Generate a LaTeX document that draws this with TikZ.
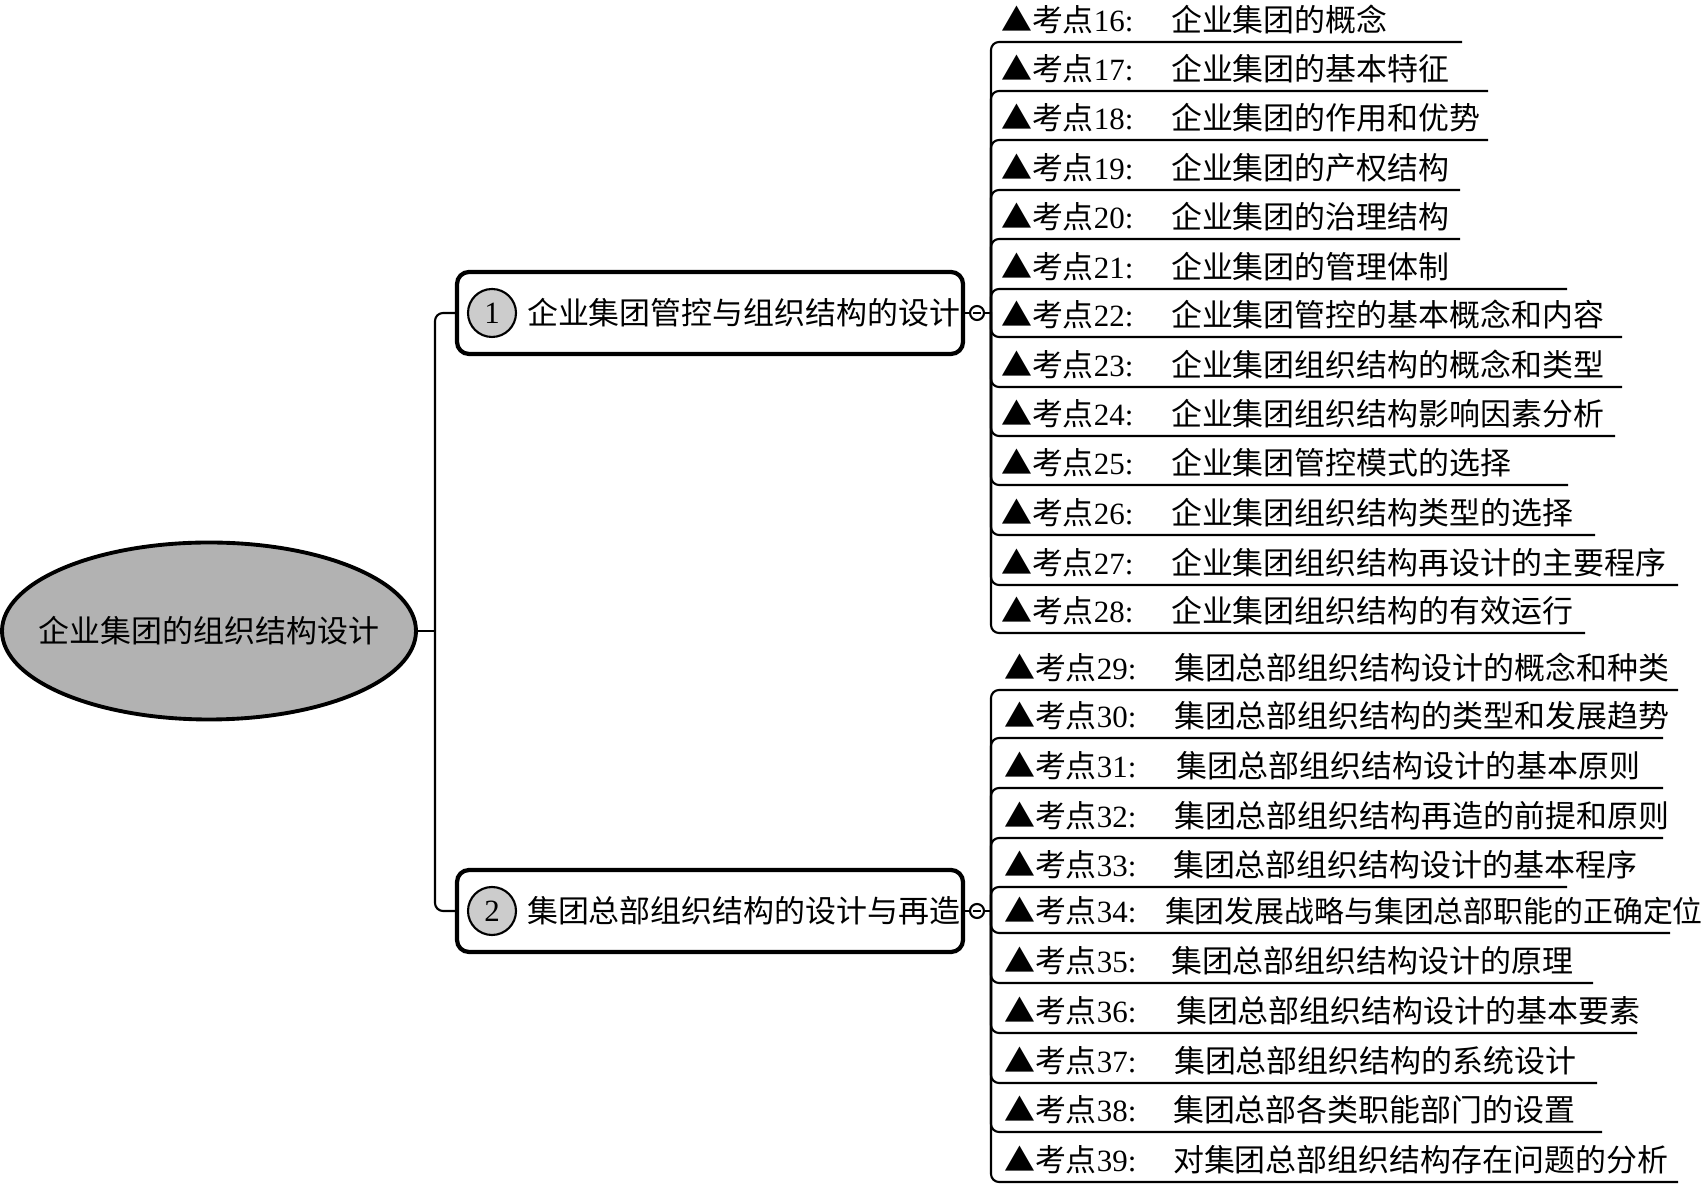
\documentclass[tikz,border=0pt]{standalone}
\usepackage{fontspec}
\setmainfont{Liberation Serif}
\newfontfamily\cjk{Noto Sans CJK SC}
\usetikzlibrary{positioning,shapes.geometric}
\begin{document}
\begin{tikzpicture}[line width=0.6pt, x=1cm, y=1cm,
  rootnode/.style={ellipse, draw, fill=black!30, line width=1.1pt, minimum width=4.14cm, minimum height=1.77cm, inner xsep=-0.26cm, inner ysep=0pt, font=\cjk\fontsize{8.8pt}{10pt}\selectfont},
  topicbox/.style={draw, rounded corners=0.12cm, line width=1.2pt, minimum width=5.06cm, minimum height=0.82cm},
  numdot/.style={circle, draw, fill=black!20, minimum size=0.48cm, inner sep=0pt, font=\fontsize{8.8pt}{10pt}\selectfont},
  boxtxt/.style={inner sep=0pt, font=\cjk\fontsize{8.8pt}{10pt}\selectfont},
  foldmark/.style={circle, draw, minimum size=0.14cm, inner sep=0pt, path picture={\draw[shorten <=0.03cm, shorten >=0.03cm] (path picture bounding box.west) -- (path picture bounding box.east);}},
  ptlabel/.style={anchor=west, inner sep=0pt, font=\fontsize{8.8pt}{10pt}\selectfont},
  pttext/.style={anchor=west, inner sep=0pt, font=\cjk\fontsize{8.8pt}{10pt}\selectfont},
  branch/.style={rounded corners=0.08cm}]
  \useasboundingbox (0,0) rectangle (17.07,11.84);
  \node[rootnode] (root) at (2.09,5.53) {企业集团的组织结构设计};
  \node[topicbox] (b1) at (7.10,8.71) {};
  \node[numdot] (n1) at (4.92,8.71) {1};
  \node[boxtxt, right=0.09cm of n1] (bt1) {企业集团管控与组织结构的设计};
  \node[topicbox] (b2) at (7.10,2.73) {};
  \node[numdot] (n2) at (4.92,2.73) {2};
  \node[boxtxt, right=0.09cm of n2] (bt2) {集团总部组织结构的设计与再造};
  \coordinate (jn0) at (4.35,5.53);
  \draw (root.east) -- (jn0);
  \draw[branch] (jn0) |- (b1.west);
  \draw[branch] (jn0) |- (b2.west);
  \node[foldmark] (f1) at (9.77,8.71) {};
  \node[foldmark] (f2) at (9.77,2.73) {};
  \coordinate (jn1) at (9.91,8.71);
  \coordinate (jn2) at (9.91,2.73);
  \draw (b1.east) -- (f1.west);
  \draw (f1.east) -- (jn1);
  \draw (b2.east) -- (f2.west);
  \draw (f2.east) -- (jn2);
  \foreach \kp/\ly/\lx/\txt in {16/11.42/14.62/企业集团的概念, 17/10.93/14.88/企业集团的基本特征, 18/10.44/14.88/企业集团的作用和优势, 19/9.94/14.60/企业集团的产权结构, 20/9.45/14.60/企业集团的治理结构, 21/8.95/15.67/企业集团的管理体制, 22/8.47/16.22/企业集团管控的基本概念和内容, 23/7.97/16.22/企业集团组织结构的概念和类型, 24/7.48/16.15/企业集团组织结构影响因素分析, 25/6.99/15.68/企业集团管控模式的选择, 26/6.49/15.95/企业集团组织结构类型的选择, 27/5.99/16.78/企业集团组织结构再设计的主要程序, 28/5.51/15.85/企业集团组织结构的有效运行}{
    \node[ptlabel] (k\kp) at (10.00,\ly+0.22) {{\cjk ▲考点}\kp:};
    \node[pttext] (t\kp) at (11.70,\ly+0.22) {\txt};
    \coordinate (u\kp) at (\lx,\ly);
    \draw[branch] (jn1) |- (u\kp);
  }
  \foreach \kp/\ly/\lx/\tx/\txt in {29/4.94/16.78/11.73/集团总部组织结构设计的概念和种类, 30/4.46/16.63/11.73/集团总部组织结构的类型和发展趋势, 31/3.96/16.63/11.75/集团总部组织结构设计的基本原则, 32/3.46/16.63/11.73/集团总部组织结构再造的前提和原则, 33/2.97/15.67/11.72/集团总部组织结构设计的基本程序, 34/2.51/16.70/11.64/{\fontsize{8.5pt}{10pt}\selectfont 集团发展战略与集团总部职能的正确定位}, 35/2.01/15.93/11.70/集团总部组织结构设计的原理, 36/1.51/16.37/11.75/集团总部组织结构设计的基本要素, 37/1.01/15.97/11.73/集团总部组织结构的系统设计, 38/0.52/16.02/11.72/集团总部各类职能部门的设置, 39/0.02/16.78/11.72/对集团总部组织结构存在问题的分析}{
    \node[ptlabel] (k\kp) at (10.03,\ly+0.22) {{\cjk ▲考点}\kp:};
    \node[pttext] (t\kp) at (\tx,\ly+0.22) {\txt};
    \coordinate (u\kp) at (\lx,\ly);
    \draw[branch] (jn2) |- (u\kp);
  }
\end{tikzpicture}
\end{document}
